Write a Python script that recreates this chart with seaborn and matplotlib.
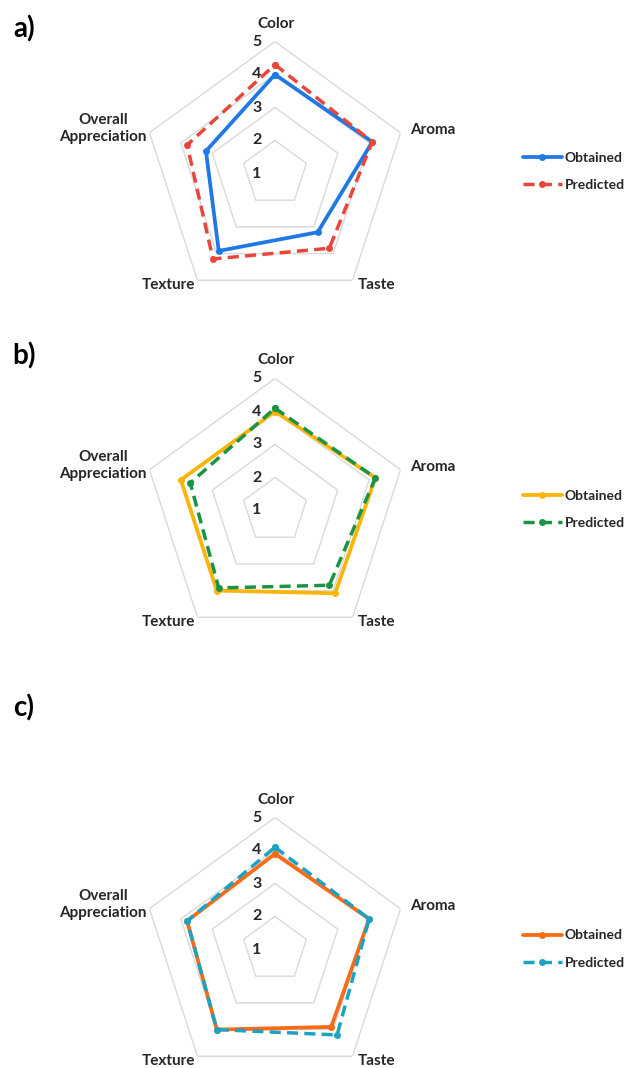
import numpy as np
import pandas as pd
import matplotlib
matplotlib.use("Agg")
import matplotlib.pyplot as plt
from matplotlib.lines import Line2D
import seaborn as sns

# Sensory attributes and score scale
categories = ["Color", "Aroma", "Taste", "Texture", "Overall\nAppreciation"]
scale_ticks = [1, 2, 3, 4, 5]

# Panel a
obtained_a = [4.0, 4.1, 3.2, 3.9, 3.2]
predicted_a = [4.3, 4.1, 3.8, 4.2, 3.8]
# Panel b
obtained_b = [4.0, 4.2, 4.1, 4.0, 4.0]
predicted_b = [4.1, 4.2, 3.8, 3.9, 3.7]
# Panel c
obtained_c = [3.9, 4.0, 3.9, 4.0, 3.8]
predicted_c = [4.1, 4.0, 4.2, 4.0, 3.8]

series_names = ["Obtained", "Predicted"]
panel_labels = ["a)", "b)", "c)"]

sns.set_style("white")
plt.rcParams["font.family"] = ["Lato", "DejaVu Sans"]
plt.rcParams["font.weight"] = "bold"

TXT = "#262626"
GRID = "#d9d9d9"
FS = 11
LEG_FS = 10

W, H = 629, 1068
fig = plt.figure(figsize=(W / 100, H / 100), dpi=100)

R = 132  # pixel radius of the outer ring
panels = [
    dict(cy=173.5, obt=obtained_a, pred=predicted_a, c1="#1f78e6", c2="#e8463a",
         label_y=29, legend_y=171.5),
    dict(cy=510.5, obt=obtained_b, pred=predicted_b, c1="#fbb40a", c2="#1a9444",
         label_y=356, legend_y=509.5),
    dict(cy=949.5, obt=obtained_c, pred=predicted_c, c1="#fb6a14", c2="#1aa3c2",
         label_y=708, legend_y=949),
]
CX = 275

n = len(categories)
theta = np.linspace(0, 2 * np.pi, n, endpoint=False)
theta_closed = np.append(theta, theta[0] + 2 * np.pi)

# label placement: (dx, dy) pixel offsets from each outer vertex, alignment
label_offsets = [((1, 18), "center"), ((10, 3), "left"), ((5, -5), "left"),
                 ((-2, -5), "right"), ((-3, 4), "right")]

for p, plabel in zip(panels, panel_labels):
    ax = fig.add_axes([(CX - R) / W, 1 - (p["cy"] + R) / H, 2 * R / W, 2 * R / H],
                      projection="polar")
    ax.set_theta_zero_location("N")
    ax.set_theta_direction(-1)
    ax.grid(False)
    ax.spines["polar"].set_visible(False)
    ax.patch.set_visible(False)
    ax.set_xticks([])
    ax.set_yticks([])

    # pentagonal grid rings
    for t in scale_ticks[1:]:
        ax.plot(theta_closed, [t] * (n + 1), color=GRID, lw=1.0, zorder=1)

    for t in scale_ticks:
        ax.annotate(str(t), xy=(0, t), xytext=(-18, 0), textcoords="offset pixels",
                    ha="center", va="center", fontsize=FS + 0.5, color=TXT,
                    fontweight="bold")

    for (off, ha), cat, th in zip(label_offsets, categories, theta):
        ax.annotate(cat, xy=(th, 5), xytext=off, textcoords="offset pixels",
                    ha=ha, va="center", fontsize=FS, color=TXT, fontweight="bold",
                    multialignment="center", linespacing=1.25)

    df = pd.DataFrame({
        "theta": np.concatenate([theta_closed, theta_closed]),
        "score": np.concatenate([p["obt"] + p["obt"][:1], p["pred"] + p["pred"][:1]]),
        "series": [series_names[0]] * (n + 1) + [series_names[1]] * (n + 1),
    })
    sns.lineplot(data=df[df.series == "Obtained"], x="theta", y="score", ax=ax,
                 sort=False, estimator=None, color=p["c1"], lw=2.7, marker="o",
                 markersize=5, markeredgewidth=0, zorder=3, legend=False)
    sns.lineplot(data=df[df.series == "Predicted"], x="theta", y="score", ax=ax,
                 sort=False, estimator=None, color=p["c2"], lw=2.5,
                 linestyle=(0, (3.2, 1.8)), marker="o", markersize=5,
                 markeredgewidth=0, zorder=4, legend=False)
    ax.set_ylim(1, 5)
    ax.set_xlabel("")
    ax.set_ylabel("")

    handles = [
        Line2D([], [], color=p["c1"], lw=2.7, marker="o", markersize=5, markeredgewidth=0),
        Line2D([], [], color=p["c2"], lw=2.5, linestyle=(0, (3.2, 1.8)), marker="o",
               markersize=5, markeredgewidth=0),
    ]
    leg = fig.legend(handles, series_names, loc="center left",
                     bbox_to_anchor=(523 / W, 1 - p["legend_y"] / H),
                     frameon=False, fontsize=LEG_FS, borderpad=0, handlelength=2.8,
                     handletextpad=0.22, labelspacing=1.1, borderaxespad=0)
    for t in leg.get_texts():
        t.set_color(TXT)
        t.set_fontweight("bold")

    fig.text(24 / W, 1 - p["label_y"] / H, plabel, ha="center", va="center",
             fontsize=20, fontweight="bold", color="black")

fig.savefig("out.png", dpi=100)
